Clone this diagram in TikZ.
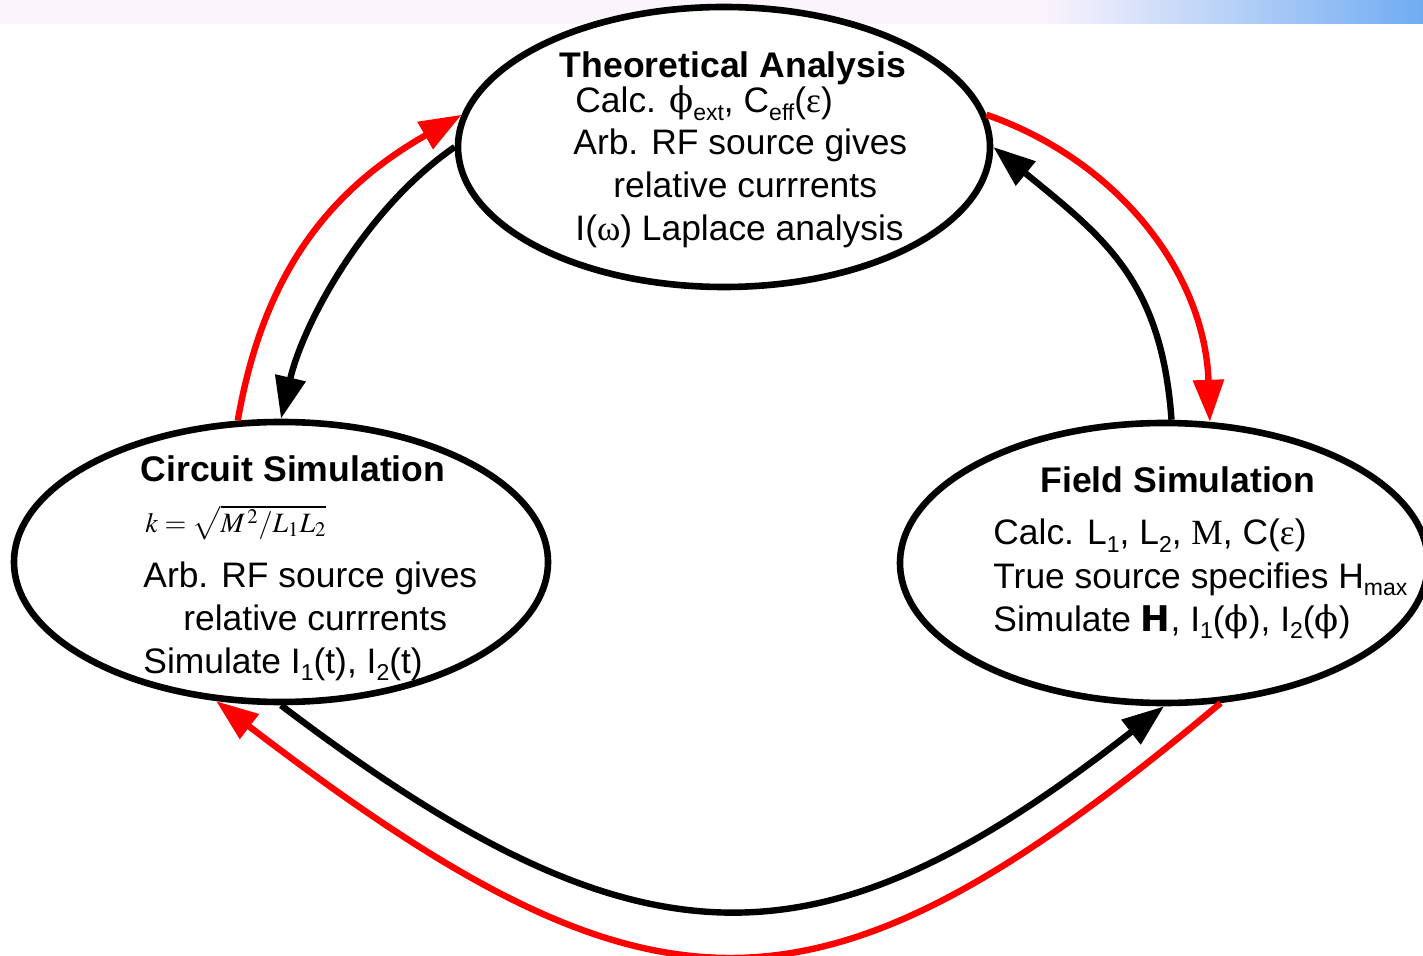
\documentclass[tikz,border=0pt]{standalone}
\usepackage{mathptmx}
\usepackage{fontspec}
\setmainfont{Liberation Sans}
\newfontfamily\serifgr{Liberation Serif}
\newfontfamily\dvserif{DejaVu Serif}
\newfontfamily\heavysans{DejaVu Sans}
\usetikzlibrary{arrows.meta,shapes.geometric,calc}
\definecolor{stripPink}{RGB}{252,244,252}
\definecolor{stripBlue}{RGB}{112,172,242}
\definecolor{arrowRed}{RGB}{255,0,0}
\newcommand\lowsub[1]{\raisebox{-3.6pt}{\fontsize{11.5pt}{12pt}\selectfont #1}}
\tikzset{
  bubble/.style={draw, ellipse, line width=3.3pt, fill=white, inner sep=0pt, minimum height=140pt},
  flow/.style={line width=3.2pt, -{Triangle[length=21pt,width=15pt]}},
  blkflow/.style={flow, draw=black},
  redflow/.style={flow, draw=arrowRed},
  tx/.style={inner sep=0pt, anchor=base west, font=\fontsize{17.7pt}{21pt}\selectfont},
  ttl/.style={inner sep=0pt, anchor=base, font=\fontsize{17.8pt}{21pt}\selectfont\bfseries}
}
\begin{document}
\begin{tikzpicture}[x=0.5pt,y=-0.5pt]
\clip (0,0) rectangle (1423,956);
\fill[white] (0,0) rectangle (1423,956);
% top strip
\fill[stripPink] (0,0) rectangle (1423,24);
\shade[left color=stripPink, right color=stripBlue] (1040,0) rectangle (1423,24);
% ellipses
\node[bubble, minimum width=266pt] (ta) at (724,147) {};
\node[bubble, minimum width=267pt] (cs) at (281,562) {};
\node[bubble, minimum width=264pt] (fs) at (1164,563) {};
% connectors
\draw[redflow] (cs.107.7) .. controls ($(cs.107.7)+(26,-150)$) and ($(ta.173.4)+(-130,74)$) .. (ta.173.4);
\draw[blkflow] (ta.west) .. controls ($(ta.west)+(-90,62)$) and ($(cs.north)+(22,-95)$) .. (cs.north);
\draw[redflow] (ta.7.6) .. controls ($(ta.7.6)+(130,45)$) and ($(fs.72.3)+(-5,-150)$) .. (fs.72.3);
\draw[blkflow] (fs.87) .. controls ($(fs.87)+(-10,-140)$) and ($(ta.east)+(110,90)$) .. (ta.east);
\draw[blkflow] (cs.south) .. controls ($(cs.south)+(360,273)$) and ($(fs.south)+(-345,270)$) .. (fs.south);
\draw[redflow] (fs.-68.8) .. controls ($(fs.-68.8)+(-400,336)$) and ($(cs.245.4)+(441,338)$) .. (cs.245.4);
% texts: theoretical analysis
\node[ttl] (t1) at (733,78) {Theoretical Analysis};
\node[tx] (t2) at (575,113) {Calc. {\dvserif ϕ}\lowsub{ext}, C\lowsub{eff}({\serifgr ε})};
\node[tx] (t3) at (573,155) {Arb. RF source gives};
\node[tx] (t4) at (613,198) {relative currrents};
\node[tx] (t5) at (575,241) {I({\serifgr ω}) Laplace analysis};
% circuit simulation
\node[ttl] (c1) at (293,482) {Circuit Simulation};
\node[inner sep=0pt, anchor=base west, font=\fontsize{14pt}{14pt}\selectfont] (c2) at (145,532) {$k=\sqrt{M^{\,2}/L_{1}L_{2}}$};
\node[tx] (c3) at (143,587) {Arb. RF source gives};
\node[tx] (c4) at (183,630) {relative currrents};
\node[tx] (c5) at (143,673) {Simulate I\lowsub{1}(t), I\lowsub{2}(t)};
% field simulation
\node[ttl] (f1) at (1178,493) {Field Simulation};
\node[tx] (f2) at (993,545) {Calc. L\lowsub{1}, L\lowsub{2}, {\serifgr M}, C({\serifgr ε})};
\node[tx] (f3) at (993,588) {True source specifies H\lowsub{max}};
\node[tx] (f4) at (993,631) {Simulate {\heavysans\bfseries H}, I\lowsub{1}({\dvserif ϕ}), I\lowsub{2}({\dvserif ϕ})};
\end{tikzpicture}
\end{document}
